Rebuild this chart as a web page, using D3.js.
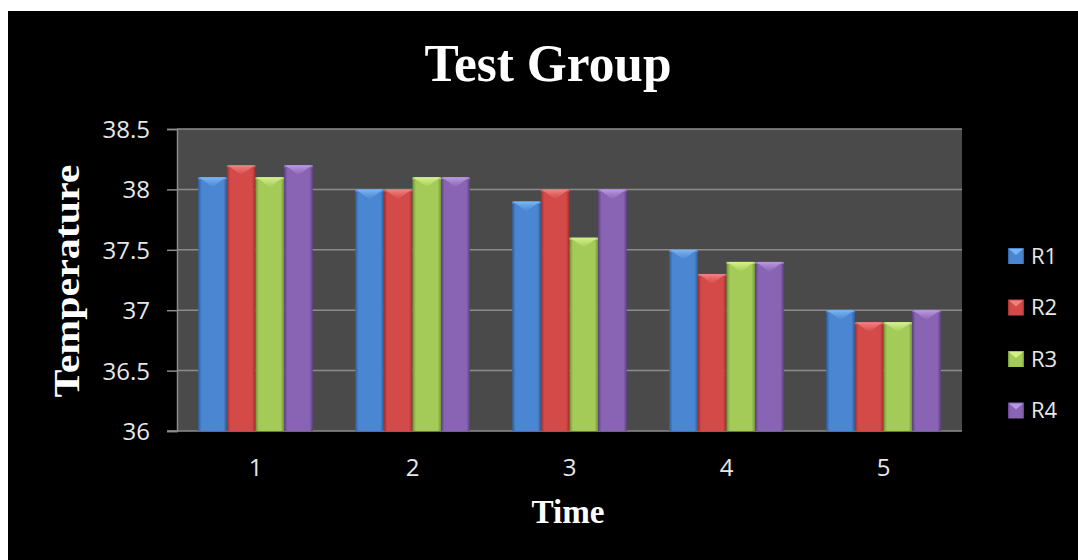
<!DOCTYPE html>
<html>
<head>
<meta charset="utf-8">
<script src="https://cdn.jsdelivr.net/npm/d3@7/dist/d3.min.js"></script>
<style>
html,body{margin:0;padding:0;background:#fff;}
svg{display:block;}
</style>
</head>
<body>
<svg id="chart" width="1078" height="560"></svg>
<script>
const categories = ["1", "2", "3", "4", "5"];
const seriesNames = ["R1", "R2", "R3", "R4"];
const R1 = [38.1, 38.0, 37.9, 37.5, 37.0];
const R2 = [38.2, 38.0, 38.0, 37.3, 36.9];
const R3 = [38.1, 38.1, 37.6, 37.4, 36.9];
const R4 = [38.2, 38.1, 38.0, 37.4, 37.0];
const yTicks = [36, 36.5, 37, 37.5, 38, 38.5];
const titleText = "Test Group";
const xTitle = "Time";
const yTitle = "Temperature";

const seriesValues = [R1, R2, R3, R4];
const colors = [
  {base:"#4a86d2", dark:"#2f5f9e", light:"#7ab4f2"},
  {base:"#d44a48", dark:"#9c2e2c", light:"#f08080"},
  {base:"#a4cb58", dark:"#6f9334", light:"#d2f08a"},
  {base:"#8a64b4", dark:"#5e4284", light:"#b898e0"}
];

const svg = d3.select("#chart");
svg.append("rect").attr("x",8).attr("y",11).attr("width",1070).attr("height",549).attr("fill","#000");

const defs = svg.append("defs");
colors.forEach((c,i)=>{
  const g = defs.append("linearGradient").attr("id","bar"+i).attr("x1","0").attr("x2","1").attr("y1","0").attr("y2","0");
  g.append("stop").attr("offset","0").attr("stop-color",c.dark);
  g.append("stop").attr("offset","0.12").attr("stop-color",c.base);
  g.append("stop").attr("offset","0.5").attr("stop-color",c.base);
  g.append("stop").attr("offset","0.88").attr("stop-color",c.base);
  g.append("stop").attr("offset","1").attr("stop-color",c.dark);
  const t = defs.append("linearGradient").attr("id","top"+i).attr("x1","0").attr("x2","0").attr("y1","0").attr("y2","1");
  t.append("stop").attr("offset","0").attr("stop-color",c.light);
  t.append("stop").attr("offset","1").attr("stop-color",c.base);
});

const plot = {left:177, right:962, top:129, bottom:431};

const x0 = d3.scaleBand().domain(categories).range([plot.left, plot.right]).paddingInner(0.27).paddingOuter(0.135);
const x1 = d3.scaleBand().domain(seriesNames).range([0, x0.bandwidth()]).padding(0);
const y = d3.scaleLinear().domain([36, 38.5]).range([plot.bottom, plot.top]);

svg.append("rect").attr("x",plot.left).attr("y",plot.top).attr("width",plot.right-plot.left).attr("height",plot.bottom-plot.top).attr("fill","#4a4a4a");

svg.append("g").selectAll("line").data(yTicks.filter(t=>t>36)).join("line")
  .attr("x1",plot.left).attr("x2",plot.right)
  .attr("y1",d=>y(d)).attr("y2",d=>y(d))
  .attr("stroke","#8c8c8c").attr("stroke-width",1.5);

const yAxis = d3.axisLeft(y).tickValues(yTicks).tickSize(10).tickPadding(17).tickFormat(d=>String(d));
const gy = svg.append("g").attr("transform",`translate(${plot.left},0)`).call(yAxis);
gy.select(".domain").attr("stroke","#8c8c8c").attr("stroke-width",1.5);
gy.selectAll(".tick line").attr("stroke","#8c8c8c").attr("stroke-width",1.5);
gy.selectAll(".tick text").attr("fill","#e8e8e8").attr("font-family","'Open Sans', sans-serif").attr("font-size",24).attr("dy","0.35em");

const xAxis = d3.axisBottom(x0).tickSize(0).tickPadding(28);
const gx = svg.append("g").attr("transform",`translate(0,${plot.bottom})`).call(xAxis);
gx.select(".domain").attr("d",`M${plot.left-10},0H${plot.right}`).attr("stroke","#8c8c8c").attr("stroke-width",1.5);
gx.selectAll(".tick text").attr("fill","#e8e8e8").attr("font-family","'Open Sans', sans-serif").attr("font-size",24);

const rows = categories.map((c,ci)=>({cat:c, vals:seriesNames.map((s,si)=>({s, si, v:seriesValues[si][ci]}))}));
const groups = svg.append("g").selectAll("g").data(rows).join("g")
  .attr("transform",d=>`translate(${x0(d.cat)},0)`);
const bars = groups.selectAll("g").data(d=>d.vals).join("g");
bars.append("rect")
  .attr("x",d=>x1(d.s)).attr("y",d=>y(d.v))
  .attr("width",x1.bandwidth()).attr("height",d=>y(36)-y(d.v))
  .attr("fill",d=>`url(#bar${d.si})`);
bars.append("path")
  .attr("d",d=>{
    const bx = x1(d.s), by = y(d.v), w = x1.bandwidth();
    return `M${bx+1},${by}L${bx+w-1},${by}L${bx+w/2},${by+10}Z`;
  })
  .attr("fill",d=>`url(#top${d.si})`);
bars.append("rect")
  .attr("x",d=>x1(d.s)).attr("y",d=>y(d.v))
  .attr("width",x1.bandwidth()).attr("height",2)
  .attr("fill",d=>colors[d.si].light).attr("opacity",0.6);

const legend = svg.append("g").selectAll("g").data(seriesNames).join("g")
  .attr("transform",(d,i)=>`translate(1008,${248 + i*51.5})`);
legend.append("rect").attr("width",16).attr("height",16).attr("fill",(d,i)=>`url(#bar${i})`);
legend.append("path").attr("d","M1,1L15,1L8,7Z").attr("fill",(d,i)=>colors[i].light);
legend.append("text").attr("x",23).attr("y",8).attr("dy","0.35em")
  .attr("fill","#e8e8e8").attr("font-family","'Open Sans', sans-serif").attr("font-size",22)
  .text(d=>d);

svg.append("text").attr("x",548).attr("y",81).attr("text-anchor","middle")
  .attr("font-family","'Liberation Serif', 'Times New Roman', serif").attr("font-weight","bold")
  .attr("font-size",53).attr("fill","#fff")
  .attr("textLength",247).attr("lengthAdjust","spacingAndGlyphs")
  .text(titleText);
svg.append("text").attr("x",568).attr("y",523).attr("text-anchor","middle")
  .attr("font-family","'Liberation Serif', 'Times New Roman', serif").attr("font-weight","bold")
  .attr("font-size",33).attr("fill","#fff")
  .attr("textLength",73).attr("lengthAdjust","spacingAndGlyphs")
  .text(xTitle);
svg.append("text").attr("transform","translate(79,281) rotate(-90)").attr("text-anchor","middle")
  .attr("font-family","'Liberation Serif', 'Times New Roman', serif").attr("font-weight","bold")
  .attr("font-size",35).attr("fill","#fff")
  .attr("textLength",233).attr("lengthAdjust","spacingAndGlyphs")
  .text(yTitle);
</script>
</body>
</html>
